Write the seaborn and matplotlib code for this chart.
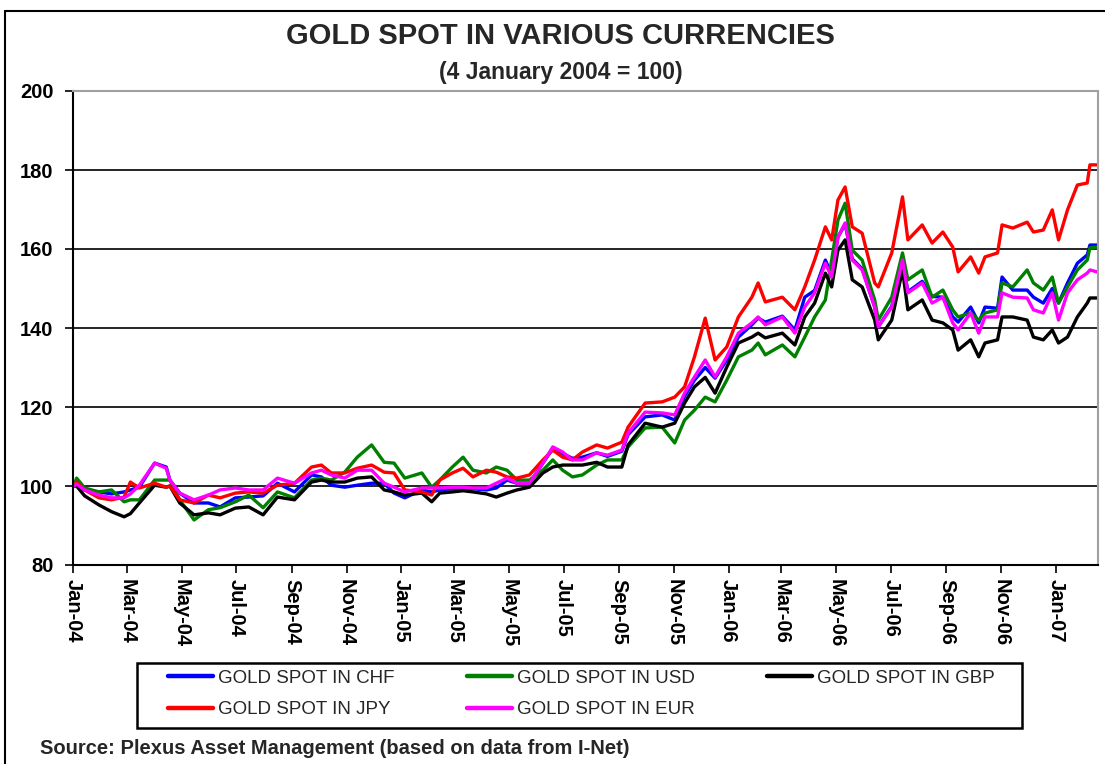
import matplotlib
matplotlib.use("Agg")
import matplotlib.pyplot as plt
import matplotlib.dates as mdates
from matplotlib.lines import Line2D
from matplotlib.patches import Rectangle
import seaborn as sns
import pandas as pd

dates = [
    "2004-01-02", "2004-01-05", "2004-01-14", "2004-01-30", "2004-02-13", "2004-02-27",
    "2004-03-05", "2004-03-15", "2004-04-01", "2004-04-14", "2004-04-18", "2004-04-29",
    "2004-05-15", "2004-05-31", "2004-06-13", "2004-06-30", "2004-07-15", "2004-07-31",
    "2004-08-16", "2004-09-04", "2004-09-23", "2004-10-04", "2004-10-15", "2004-10-30",
    "2004-11-13", "2004-11-29", "2004-12-13", "2004-12-24", "2005-01-05", "2005-01-24",
    "2005-02-04", "2005-02-13", "2005-02-27", "2005-03-11", "2005-03-22", "2005-04-06",
    "2005-04-17", "2005-04-29", "2005-05-10", "2005-05-24", "2005-06-08", "2005-06-19",
    "2005-06-30", "2005-07-11", "2005-07-22", "2005-08-07", "2005-08-19", "2005-09-04",
    "2005-09-11", "2005-09-30", "2005-10-19", "2005-11-02", "2005-11-13", "2005-11-24",
    "2005-12-06", "2005-12-17", "2005-12-30", "2006-01-12", "2006-01-27", "2006-02-03",
    "2006-02-11", "2006-03-02", "2006-03-16", "2006-03-27", "2006-04-07", "2006-04-19",
    "2006-04-26", "2006-05-03", "2006-05-11", "2006-05-19", "2006-05-30", "2006-06-13",
    "2006-06-17", "2006-07-02", "2006-07-14", "2006-07-20", "2006-08-05", "2006-08-16",
    "2006-08-28", "2006-09-08", "2006-09-14", "2006-09-28", "2006-10-07", "2006-10-14",
    "2006-10-28", "2006-11-02", "2006-11-14", "2006-11-30", "2006-12-07", "2006-12-18",
    "2006-12-28", "2007-01-04", "2007-01-14", "2007-01-25", "2007-02-05", "2007-02-08",
    "2007-02-16",
]

chf = [100, 100, 99, 98.5, 98, 98.5, 99, 99.7, 105.8, 104.8, 101.5, 98.2,
       95.7, 95.7, 94.7, 97, 97.2, 97.5, 100.7, 98.5, 102.8, 102.3, 100.2, 99.7,
       100.2, 100.7, 100.7, 98.2, 97, 99, 98.5, 99, 99.3, 99.3, 99.3, 99,
       99.5, 101.5, 100.7, 100.7, 105.8, 109.5, 108.2, 107, 107.3, 108.4, 107.5, 108.8,
       113, 117.5, 118, 116.7, 122.7, 126.8, 130, 127.3, 131.9, 137.7, 140.8, 142.5,
       141.5, 143, 139.5, 147.8, 149.5, 157.2, 153.5, 163, 166.3, 157.5, 155, 145.3,
       140.3, 145.5, 157.5, 149.2, 151.8, 148, 147.8, 142.8, 141.5, 145.3, 141.3, 145.3,
       145, 152.9, 149.6, 149.6, 147.8, 146.3, 150, 146.3, 151.4, 156.4, 158.5, 161,
       161]
usd = [100, 102, 99.5, 98.5, 99, 96, 96.5, 96.5, 101.5, 101.5, 101.5, 96.5,
       91.4, 94, 94.5, 96, 97.7, 94.5, 98.5, 97, 101.5, 102, 101.5, 103.5,
       107.3, 110.4, 106, 105.8, 102, 103.3, 99.7, 101.5, 104.8, 107.3, 104, 103.3,
       104.8, 104, 101.5, 101.5, 104, 106.6, 104, 102.3, 102.8, 105.3, 106.6, 106.6,
       109.9, 114.7, 114.9, 110.9, 116.7, 119.2, 122.5, 121.3, 126.8, 132.7, 134.4, 136.2,
       133.2, 135.7, 132.7, 137.7, 142.8, 147.1, 157.2, 167.3, 171.6, 159.7, 157.2, 147.1,
       142, 147.8, 159, 152.2, 154.7, 147.8, 149.6, 144.6, 142.8, 143.8, 142, 143.8,
       144.6, 151.4, 150.4, 154.7, 151.4, 149.6, 152.9, 146.3, 150.4, 154.7, 157.2, 160.3,
       160.5]
gbp = [100, 100, 97.5, 95.2, 93.5, 92.2, 93, 95.7, 100.2, 99.7, 100, 95.7,
       92.7, 93.2, 92.7, 94.4, 94.7, 92.7, 97.2, 96.5, 101, 101.5, 101, 101,
       102, 102.3, 99, 98.5, 97.7, 98.2, 96, 98.2, 98.5, 98.8, 98.5, 98,
       97.2, 98.2, 99, 99.7, 103.3, 104.8, 105.3, 105.3, 105.3, 106, 104.8, 104.8,
       110.4, 115.9, 114.9, 115.9, 121, 125.1, 127.5, 123.5, 130.1, 136.2, 137.7, 138.7,
       137.5, 138.7, 135.7, 142.8, 146.3, 153.9, 150.4, 159.7, 162.3, 152.2, 150.4, 142,
       137, 142, 154.7, 144.6, 147.1, 142, 141.3, 139.5, 134.4, 137, 132.7, 136.2,
       137, 142.8, 142.8, 142, 137.7, 137, 139.5, 136.2, 137.7, 142.8, 146.3, 147.6,
       147.6]
jpy = [100, 101, 99, 97, 96.5, 97.2, 101, 99.5, 100.7, 99.7, 100, 96.5,
       95.7, 97.7, 97, 98.2, 98.5, 98.2, 100.2, 100.7, 104.8, 105.3, 103.3, 103.3,
       104.5, 105.3, 103.5, 103.3, 99, 98.5, 97.7, 101.5, 103.3, 104.5, 102.3, 104,
       103.5, 102.3, 102, 102.8, 106.6, 109.1, 107.3, 106.6, 108.6, 110.4, 109.6, 111.1,
       114.9, 121, 121.3, 122.5, 125.1, 132.7, 142.5, 131.9, 135.2, 142.8, 147.8, 151.4,
       146.6, 147.8, 144.6, 150.4, 157.2, 165.6, 162.3, 172.4, 175.7, 165.6, 164, 151.4,
       150.4, 159, 173.2, 162.3, 166.1, 161.5, 164.3, 160.5, 154.2, 158, 153.9, 158,
       159, 166.1, 165.3, 166.8, 164.3, 164.8, 169.9, 162.3, 169.9, 176.2, 176.7, 181.3,
       181.3]
eur = [100, 100.5, 99, 97.7, 97, 97, 98, 100.2, 105.8, 104.5, 101.5, 98.2,
       96.5, 97.7, 99, 99.5, 99, 99, 102, 100.7, 103.3, 104, 102.8, 102,
       104, 104, 100.7, 99.7, 98.5, 99.5, 99.5, 99.5, 99.7, 99.7, 99.5, 99.5,
       100.7, 102, 100.7, 100.7, 105.8, 109.9, 108.6, 106.6, 106.6, 108.4, 107.8, 109.1,
       113.4, 118.7, 118.5, 118, 123.5, 127.6, 131.9, 127.6, 132.7, 138.7, 141.3, 142.8,
       140.8, 142.8, 138.7, 145.3, 148.9, 156.4, 152.9, 163, 166.6, 157.2, 154.7, 145.3,
       140.3, 145.3, 157.2, 148.9, 151.4, 146.3, 147.8, 141.3, 139.5, 143.8, 138.7, 142.8,
       142.8, 148.9, 147.8, 147.6, 144.6, 143.8, 148.9, 142, 148.9, 152.2, 153.9, 154.7,
       154.2]

series_names = ["GOLD SPOT IN CHF", "GOLD SPOT IN USD", "GOLD SPOT IN GBP",
                "GOLD SPOT IN JPY", "GOLD SPOT IN EUR"]
series_values = [chf, usd, gbp, jpy, eur]
colors = ["#0000FF", "#008000", "#000000", "#FF0000", "#FF00FF"]
y_ticks = [80, 100, 120, 140, 160, 180, 200]

frames = []
for name, vals in zip(series_names, series_values):
    frames.append(pd.DataFrame({"date": pd.to_datetime(dates), "value": vals, "series": name}))
df = pd.concat(frames, ignore_index=True)

sns.set_style("white")
plt.rcParams["font.family"] = ["Liberation Sans", "DejaVu Sans"]

W, H = 1105, 764
fig = plt.figure(figsize=(W / 100, H / 100), dpi=100)
ax = fig.add_axes([73 / W, 1 - 565 / H, (1098 - 73) / W, (565 - 91) / H])

sns.lineplot(data=df, x="date", y="value", hue="series", hue_order=series_names,
             palette=colors, estimator=None, sort=False, linewidth=2.4, ax=ax, legend=False)

ax.set_ylim(80, 200)
ax.set_yticks(y_ticks)
ax.set_xlim(pd.Timestamp("2004-01-01"), pd.Timestamp("2007-02-17"))
ax.xaxis.set_major_locator(mdates.MonthLocator(bymonth=[1, 3, 5, 7, 9, 11]))
ax.xaxis.set_major_formatter(mdates.DateFormatter("%b-%y"))
ax.set_xlabel("")
ax.set_ylabel("")

for v in y_ticks[1:-1]:
    ax.axhline(v, color="black", linewidth=1.2, zorder=0)

for side in ["top", "right"]:
    ax.spines[side].set_color("#a0a0a0")
    ax.spines[side].set_linewidth(1.5)
for side in ["left", "bottom"]:
    ax.spines[side].set_color("black")
    ax.spines[side].set_linewidth(1.5)

ax.tick_params(axis="y", direction="out", length=6, width=1.2, colors="black",
               labelsize=14.5, pad=8, left=True)
ax.tick_params(axis="x", direction="out", length=6, width=1.2, colors="black",
               labelsize=14.5, pad=4, bottom=True)
for lbl in ax.get_yticklabels():
    lbl.set_fontweight("bold")
for lbl in ax.get_xticklabels():
    lbl.set_fontweight("bold")
    lbl.set_rotation(-90)
    lbl.set_ha("center")
    lbl.set_va("top")

fig.text(560 / W, 1 - 36 / H, "GOLD SPOT IN VARIOUS CURRENCIES", ha="center", va="center",
         fontsize=21, fontweight="bold")
fig.text(561 / W, 1 - 72 / H, "(4 January 2004 = 100)", ha="center", va="center",
         fontsize=16.5, fontweight="bold")
fig.text(40 / W, 1 - 749 / H, "Source: Plexus Asset Management (based on data from I-Net)",
         ha="left", va="center", fontsize=14.5, fontweight="bold")

# legend frame
fig.add_artist(Rectangle((137 / W, 1 - 728 / H), (1022 - 137) / W, (728 - 663) / H,
                         transform=fig.transFigure, facecolor="white", edgecolor="black",
                         linewidth=1.8, zorder=1))
handles = [Line2D([0], [0], color=c, linewidth=3.2) for c in colors]
order = [0, 3, 1, 4, 2]
leg = fig.legend([handles[i] for i in order], [series_names[i] for i in order],
                 ncol=3, loc="center", mode="expand",
                 bbox_to_anchor=(168 / W, 1 - 700 / H, (995 - 168) / W, (700 - 688) / H),
                 frameon=False, fontsize=13.5,
                 handlelength=2.4, handletextpad=0.27, borderpad=0, labelspacing=0.75,
                 borderaxespad=0)
leg.set_zorder(2)

fig.add_artist(Line2D([5 / W, 5 / W], [0, 1 - 11 / H], transform=fig.transFigure,
                      color="black", linewidth=1.5))
fig.add_artist(Line2D([5 / W, 1], [1 - 11 / H, 1 - 11 / H], transform=fig.transFigure,
                      color="black", linewidth=1.5))

fig.savefig("out.png", dpi=100)
